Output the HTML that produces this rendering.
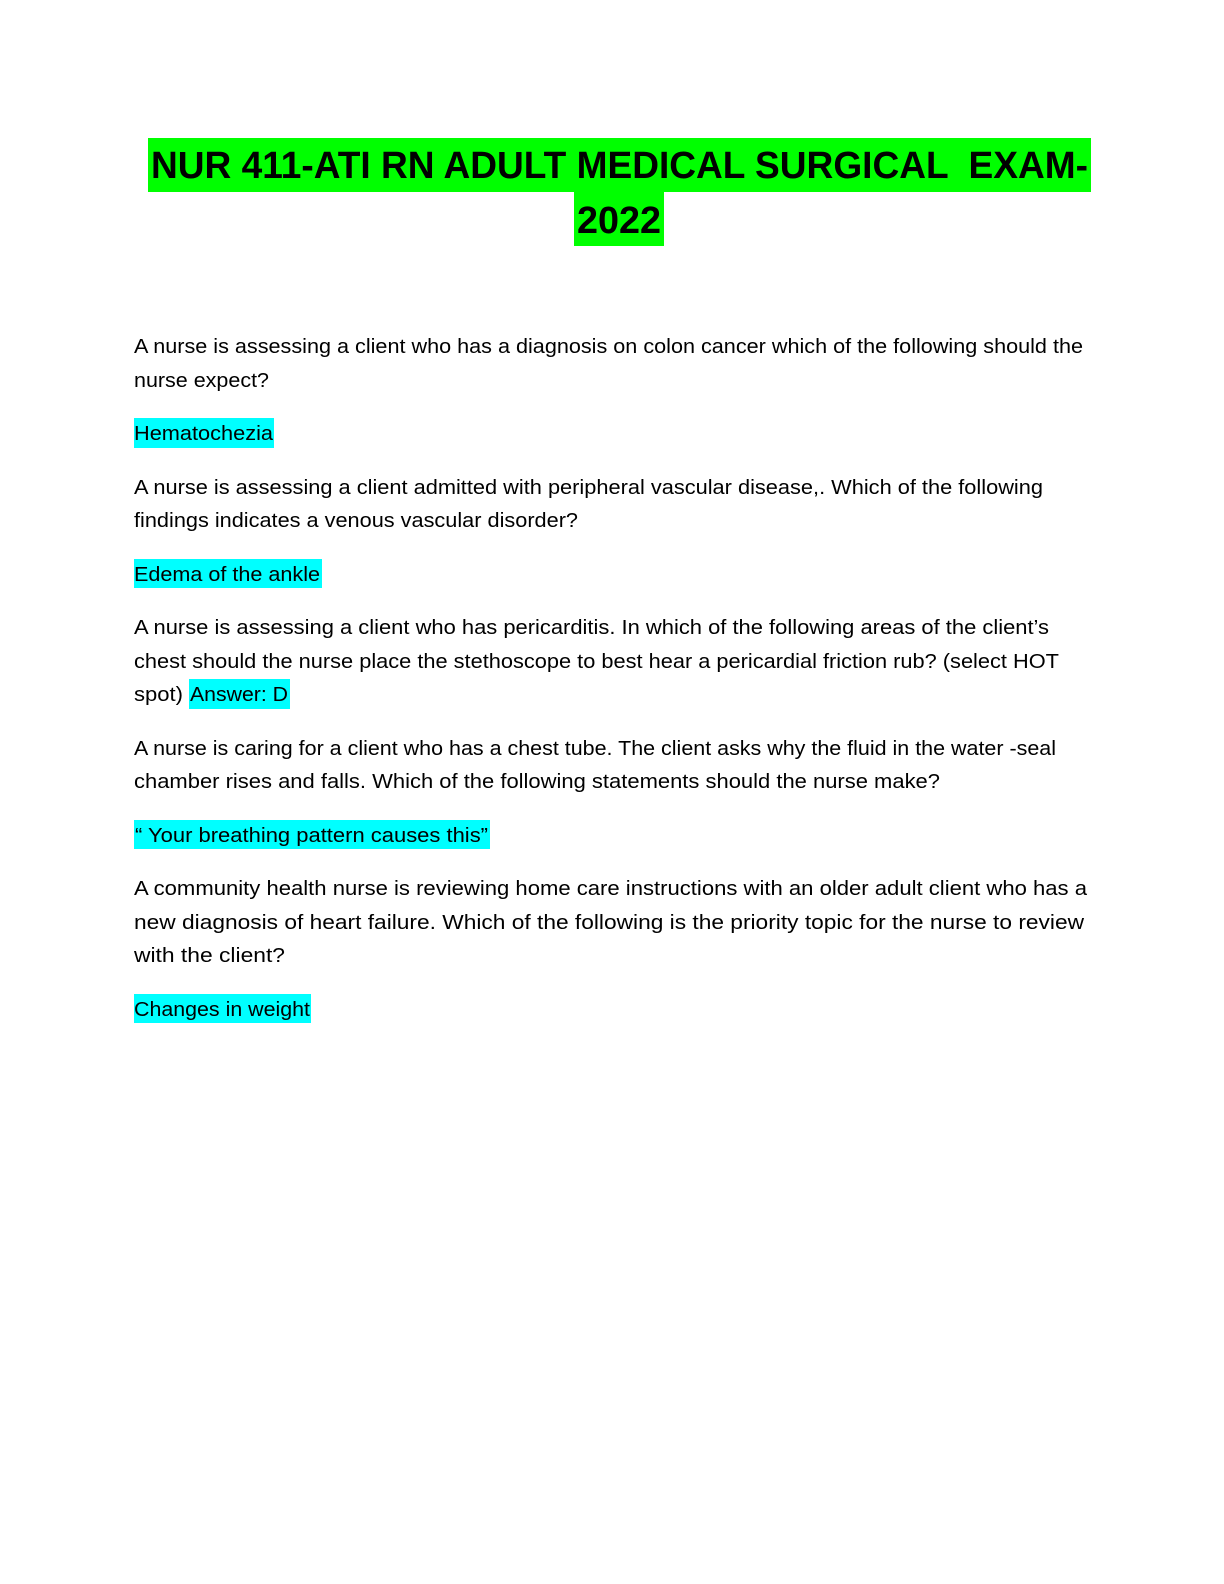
<!DOCTYPE html>
<html>
<head>
<meta charset="utf-8">
<style>
  html, body { margin:0; padding:0; background:#fff; }
  body { width:1224px; height:1584px; position:relative; overflow:hidden; }
  .t { position:absolute; white-space:pre; font-family:"Liberation Sans", Arial, sans-serif; font-size:20px; line-height:1; color:#000; transform-origin:0 0; }
  .ti { position:absolute; white-space:pre; font-family:"Liberation Sans", Arial, sans-serif; font-weight:bold; font-size:38px; line-height:1; color:#000; transform-origin:0 0; }
  .g { position:absolute; background:#00ff00; }
  .c { position:absolute; background:#00ffff; height:29.5px; }
</style>
</head>
<body>
<!-- title highlights -->
<div class="g" style="left:147.7px;top:137.7px;width:943px;height:54px;"></div>
<div class="g" style="left:574px;top:191.7px;width:90px;height:54px;"></div>

<!-- answer highlights -->
<div class="c" style="left:134px;top:418.3px;width:140px;"></div>
<div class="c" style="left:134px;top:558.8px;width:188px;"></div>
<div class="c" style="left:189px;top:679.3px;width:101px;"></div>
<div class="c" style="left:134px;top:819.8px;width:356px;"></div>
<div class="c" style="left:134px;top:993.8px;width:177px;"></div>

<div class="ti" style="left:151px;top:147.1px;">NUR 411-ATI RN ADULT MEDICAL SURGICAL  EXAM-</div>
<div class="ti" style="left:577px;top:201.8px;">2022</div>

<div class="t" style="left:134px;top:337.1px;">A nurse is assessing a client who has a diagnosis on colon cancer which of the following should the</div>
<div class="t" style="left:134px;top:370.6px;">nurse expect?</div>
<div class="t" style="left:134px;top:424.1px;">Hematochezia</div>
<div class="t" style="left:134px;top:477.6px;">A nurse is assessing a client admitted with peripheral vascular disease,. Which of the following</div>
<div class="t" style="left:134px;top:511.1px;">findings indicates a venous vascular disorder?</div>
<div class="t" style="left:134px;top:564.6px;">Edema of the ankle</div>
<div class="t" style="left:134px;top:618.1px;">A nurse is assessing a client who has pericarditis. In which of the following areas of the client’s</div>
<div class="t" style="left:134px;top:651.6px;">chest should the nurse place the stethoscope to best hear a pericardial friction rub? (select HOT</div>
<div class="t" style="left:134px;top:685.1px;">spot)</div>
<div class="t" style="left:190px;top:685.1px;">Answer: D</div>
<div class="t" style="left:134px;top:738.6px;">A nurse is caring for a client who has a chest tube. The client asks why the fluid in the water -seal</div>
<div class="t" style="left:134px;top:772.1px;">chamber rises and falls. Which of the following statements should the nurse make?</div>
<div class="t" style="left:135px;top:825.6px;">“ Your breathing pattern causes this”</div>
<div class="t" style="left:134px;top:879.1px;">A community health nurse is reviewing home care instructions with an older adult client who has a</div>
<div class="t" style="left:134px;top:912.6px;">new diagnosis of heart failure. Which of the following is the priority topic for the nurse to review</div>
<div class="t" style="left:134px;top:946.1px;">with the client?</div>
<div class="t" style="left:134px;top:999.6px;">Changes in weight</div>

<script>
(function(){
  var titles = document.querySelectorAll('.ti');
  var tw = [937, 84];
  for (var i=0;i<titles.length;i++){
    var w = titles[i].getBoundingClientRect().width;
    if (w>0) titles[i].style.transform = 'scaleX(' + (tw[i]/w) + ')';
  }
  var els = document.querySelectorAll('.t');
  var widths = [949,135,139,909,444,186,915,925,49,98,922,806,353,953,950,151,176];
  for (var j=0;j<els.length;j++){
    var ww = els[j].getBoundingClientRect().width;
    if (ww>0 && widths[j]) els[j].style.transform = 'scaleX(' + (widths[j]/ww) + ')';
  }
})();
</script>
</body>
</html>
